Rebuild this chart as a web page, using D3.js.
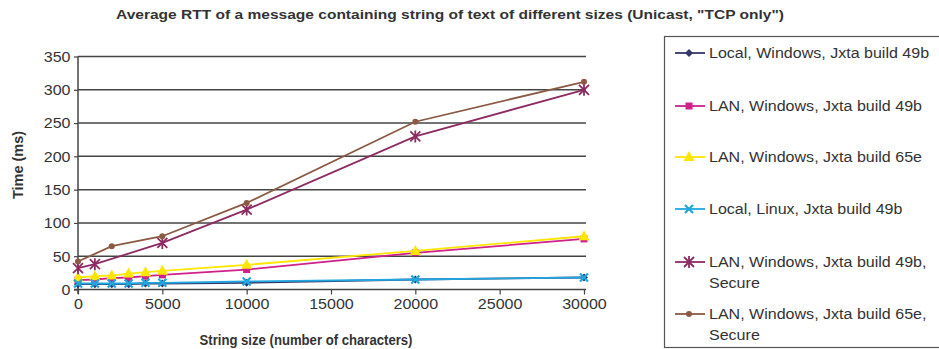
<!DOCTYPE html>
<html>
<head>
<meta charset="utf-8">
<script src="https://cdn.jsdelivr.net/npm/d3@7"></script>
<style>
  body { margin: 0; background: #fff; }
  text { font-family: "Liberation Sans", Arial, sans-serif; fill: #333; }
</style>
</head>
<body>
<svg width="939" height="349"></svg>
<script>
const title = 'Average RTT of a message containing string of text of different sizes (Unicast, "TCP only")'
const xTicks = [0, 5000, 10000, 15000, 20000, 25000, 30000]
const yTicks = [0, 50, 100, 150, 200, 250, 300, 350]

const sizesAll = [0, 1000, 2000, 3000, 4000, 5000, 10000, 20000, 30000]
const sizesBrown = [0, 2000, 5000, 10000, 20000, 30000]
const sizesPurple = [0, 1000, 5000, 10000, 20000, 30000]

const localWin49b = [8, 8, 8, 8, 9, 9, 10, 15, 18]
const lanWin49b = [14, 15, 17, 18, 20, 22, 30, 55, 76]
const lanWin65e = [18, 20, 21, 24, 26, 28, 37, 58, 80]
const localLinux49b = [9, 9, 9, 9, 10, 10, 12, 15, 18]
const lanWin49bSecure = [32, 38, 70, 120, 230, 300]
const lanWin65eSecure = [42, 65, 80, 130, 252, 312]

const seriesNames = [
    ['Local, Windows, Jxta build 49b'],
    ['LAN, Windows, Jxta build 49b'],
    ['LAN, Windows, Jxta build 65e'],
    ['Local, Linux, Jxta build 49b'],
    ['LAN, Windows, Jxta build 49b,', 'Secure'],
    ['LAN, Windows, Jxta build 65e,', 'Secure']]
const colors = ['#363668', '#d0208a', '#ffe600', '#22a6e0', '#8c2c62', '#8a5a44']
const markers = ['diamond', 'square', 'triangle', 'cross', 'star', 'circle']

const series = [
    { x: sizesAll, y: localWin49b },
    { x: sizesAll, y: lanWin49b },
    { x: sizesAll, y: lanWin65e },
    { x: sizesAll, y: localLinux49b },
    { x: sizesPurple, y: lanWin49bSecure },
    { x: sizesBrown, y: lanWin65eSecure }]

const stretch = 1.07 // the picture is a bit wider than tall

const svg = d3.select('svg')
const x = d3.scaleLinear().domain([0, 30000]).range([78, 584])
const y = d3.scaleLinear().domain([0, 350]).range([289.5, 56.5])

svg.append('text')
    .attr('x', 450).attr('y', 19)
    .attr('text-anchor', 'middle')
    .attr('textLength', 668).attr('lengthAdjust', 'spacingAndGlyphs')
    .style('font-size', '13.5px').style('font-weight', 'bold')
    .text(title)

// grid
svg.append('g').selectAll('line').data(yTicks.slice(1)).join('line')
    .attr('x1', 78).attr('x2', 586)
    .attr('y1', d => y(d)).attr('y2', d => y(d))
    .attr('stroke', '#444').attr('stroke-width', 1.5)

const yAxis = svg.append('g').attr('transform', 'translate(78,0)')
    .call(d3.axisLeft(y).tickValues(yTicks).tickSize(4).tickPadding(3))
const xAxis = svg.append('g').attr('transform', 'translate(0,289.5)')
    .call(d3.axisBottom(x).tickValues(xTicks).tickSize(5).tickPadding(4).tickFormat(d3.format('d')))
xAxis.select('.domain').attr('d', 'M74,0H586')
yAxis.select('.domain').attr('d', 'M0,56.5V294')
for (const ax of [xAxis, yAxis]) {
    ax.selectAll('.domain').attr('stroke', '#444').attr('stroke-width', 1.5)
    ax.selectAll('.tick line').attr('stroke', '#444').attr('stroke-width', 1.2)
    ax.selectAll('.tick text').style('font-size', '15px').style('fill', '#333')
        .style('font-family', '"Liberation Sans", Arial, sans-serif')
        .attr('transform', `scale(${stretch},1)`)
}

svg.append('text')
    .attr('transform', 'translate(23,165) rotate(-90)')
    .attr('text-anchor', 'middle')
    .style('font-size', '14.5px').style('font-weight', 'bold')
    .text('Time (ms)')
svg.append('text')
    .attr('x', 306).attr('y', 345)
    .attr('text-anchor', 'middle')
    .attr('textLength', 213).attr('lengthAdjust', 'spacingAndGlyphs')
    .style('font-size', '14px').style('font-weight', 'bold')
    .text('String size (number of characters)')

function drawMarker(g, type, color, cx, cy) {
    if (type === 'diamond') {
        g.append('path').attr('d', `M${cx},${cy - 4}L${cx + 4},${cy}L${cx},${cy + 4}L${cx - 4},${cy}Z`)
            .attr('fill', color)
    } else if (type === 'square') {
        g.append('rect').attr('x', cx - 3.5).attr('y', cy - 3.5).attr('width', 7).attr('height', 7)
            .attr('fill', color)
    } else if (type === 'triangle') {
        g.append('path').attr('d', `M${cx},${cy - 6}L${cx + 5.5},${cy + 4}L${cx - 5.5},${cy + 4}Z`)
            .attr('fill', color)
    } else if (type === 'cross') {
        g.append('path').attr('d', `M${cx - 4},${cy - 4}L${cx + 4},${cy + 4}M${cx + 4},${cy - 4}L${cx - 4},${cy + 4}`)
            .attr('stroke', color).attr('stroke-width', 2.2)
    } else if (type === 'star') {
        g.append('path').attr('d', `M${cx - 5},${cy - 5}L${cx + 5},${cy + 5}M${cx + 5},${cy - 5}L${cx - 5},${cy + 5}M${cx},${cy - 6}V${cy + 6}`)
            .attr('stroke', color).attr('stroke-width', 1.8)
    } else if (type === 'circle') {
        g.append('circle').attr('cx', cx).attr('cy', cy).attr('r', 3).attr('fill', color)
    }
}

const line = d3.line()
series.forEach((s, i) => {
    const pts = s.x.map((v, j) => [x(v), y(s.y[j])])
    const g = svg.append('g')
    g.append('path').attr('d', line(pts)).attr('fill', 'none')
        .attr('stroke', colors[i]).attr('stroke-width', 1.8)
    pts.forEach(p => drawMarker(g, markers[i], colors[i], p[0], p[1]))
})

// legend
svg.append('rect').attr('x', 664.5).attr('y', 36.5).attr('width', 280).attr('height', 311)
    .attr('fill', 'none').attr('stroke', '#555').attr('stroke-width', 1.2)
const legendY = [53, 106, 157, 209, 262, 314]
seriesNames.forEach((names, i) => {
    const g = svg.append('g')
    g.append('line').attr('x1', 675).attr('x2', 705)
        .attr('y1', legendY[i]).attr('y2', legendY[i])
        .attr('stroke', colors[i]).attr('stroke-width', 1.8)
    drawMarker(g, markers[i], colors[i], 689, legendY[i])
    names.forEach((t, k) => {
        g.append('text')
            .attr('transform', `translate(709,${legendY[i] + 5 + k * 20.5}) scale(${stretch},1)`)
            .style('font-size', '15px').text(t)
    })
})
</script>
</body>
</html>
